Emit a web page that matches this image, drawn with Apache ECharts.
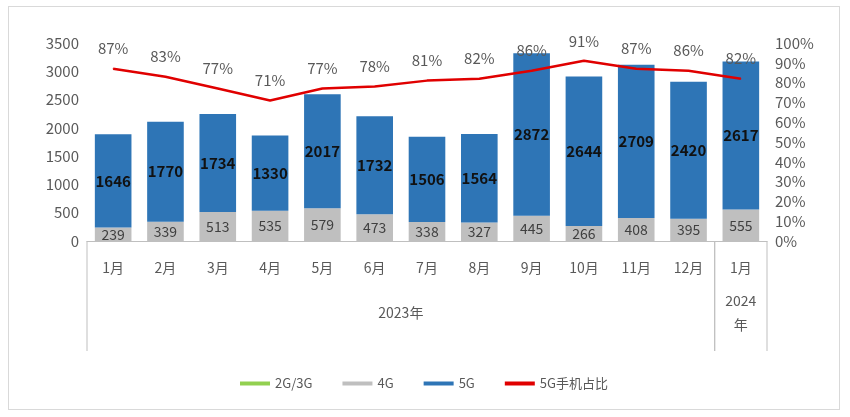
<!doctype html>
<html>
<head>
<meta charset="utf-8">
<style>
html,body{margin:0;height:100%;background:#fff}
#box{position:absolute;left:8px;top:6px;width:830px;height:402px;border:1px solid #d9d9d9}
#main{width:100%;height:100%}
</style>
</head>
<body>
<div id="box"><div id="main"></div></div>
<script src="https://cdn.jsdelivr.net/npm/echarts@6/dist/echarts.min.js"></script>
<script>
var months = ['1月','2月','3月','4月','5月','6月','7月','8月','9月','10月','11月','12月','1月'];
var s2g3g = [0,0,0,0,0,0,0,0,0,0,0,0,0];
var s4g = [239,339,513,535,579,473,338,327,445,266,408,395,555];
var s5g = [1646,1770,1734,1330,2017,1732,1506,1564,2872,2644,2709,2420,2617];
var ratio = [87,83,77,71,77,78,81,82,86,91,87,86,82];
var groups = [{name:'2023年', from:0, to:11}, {name:'2024\n年', from:12, to:12}];

var chart = echarts.init(document.getElementById('main'));
var font = 'Noto Sans CJK SC';
chart.setOption({
  textStyle:{fontFamily:font},
  grid:{left:78,right:72,top:36,bottom:168},
  legend:{bottom:14,itemWidth:30,itemHeight:4,itemGap:30,
    textStyle:{color:'#595959',fontSize:13},
    data:[{name:'2G/3G',icon:'rect'},{name:'4G',icon:'rect'},{name:'5G',icon:'rect'},{name:'5G手机占比',icon:'rect'}]},
  xAxis:{type:'category',data:months,
    axisLine:{lineStyle:{color:'#bfbfbf'}},
    axisTick:{length:48,lineStyle:{color:'#bfbfbf'}},
    axisLabel:{color:'#595959',fontSize:14,margin:20}},
  yAxis:[
    {type:'value',min:0,max:3500,interval:500,splitLine:{show:false},
     axisLabel:{color:'#595959',fontSize:15,formatter:function(v){return String(v);}}},
    {type:'value',min:0,max:100,interval:10,splitLine:{show:false},
     axisLabel:{color:'#595959',fontSize:15,formatter:'{value}%'}}
  ],
  series:[
    {name:'2G/3G',type:'bar',stack:'a',data:s2g3g,itemStyle:{color:'#92d050'},barWidth:'70%'},
    {name:'4G',type:'bar',stack:'a',data:s4g,itemStyle:{color:'#bfbfbf'},
     label:{show:true,position:'inside',color:'#404040',fontSize:14}},
    {name:'5G',type:'bar',stack:'a',data:s5g,itemStyle:{color:'#2e75b6'},
     label:{show:true,position:'inside',color:'#111',fontSize:15,fontWeight:'bold'}},
    {name:'5G手机占比',type:'line',yAxisIndex:1,data:ratio,symbol:'circle',symbolSize:1,showSymbol:true,z:5,
     lineStyle:{color:'#e00000',width:2.5},itemStyle:{color:'#e00000'},
     label:{show:true,position:'top',distance:12,color:'#595959',fontSize:15,formatter:'{c}%'}}
  ]
});

// group row under month labels
function drawGroups(){
  var g = [];
  var y0 = chart.convertToPixel({yAxisIndex:0},0);
  var step = chart.convertToPixel({xAxisIndex:0},1) - chart.convertToPixel({xAxisIndex:0},0);
  groups.forEach(function(gr){
    var x1 = chart.convertToPixel({xAxisIndex:0},gr.from) - step/2;
    var x2 = chart.convertToPixel({xAxisIndex:0},gr.to) + step/2;
    [x1,x2].forEach(function(x){
      g.push({type:'line',shape:{x1:x,y1:y0,x2:x,y2:y0+110},style:{stroke:'#bfbfbf',lineWidth:1}});
    });
    g.push({type:'text',x:(x1+x2)/2,y:y0+72,style:{text:gr.name,fill:'#595959',fontSize:14,fontFamily:font,align:'center',verticalAlign:'middle',lineHeight:24}});
  });
  chart.setOption({graphic:g});
}
drawGroups();
</script>
</body>
</html>
